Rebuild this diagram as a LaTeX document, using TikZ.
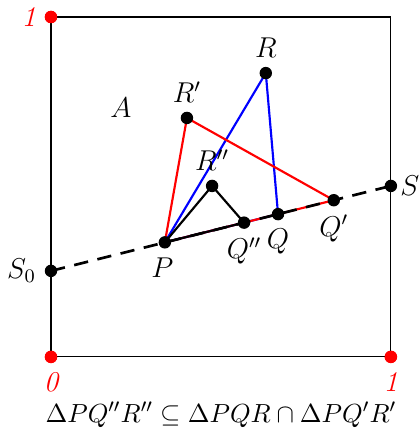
\documentclass[tikz,border=0pt]{standalone}
\usepackage{amsmath,amssymb}
\usetikzlibrary{calc}

\begin{document}
\begin{tikzpicture}[x=5cm, y=5cm,
  dot/.style={circle, fill=black, inner sep=0pt, minimum size=5.2pt},
  corner/.style={circle, fill=red, inner sep=0pt, minimum size=5.2pt},
  edge/.style={line width=0.9pt, draw=#1},
  lab/.style={font=\large},
  tick/.style={font=\large\itshape, text=red},
]
\useasboundingbox (-0.15,-0.218) rectangle (1.082,1.05);
% ---------------- points
\coordinate (S0) at (0,0.253);
\coordinate (S) at (1,0.503);
\coordinate (P) at (0.335,0.337);
\coordinate (Q) at (0.668,0.42);
\coordinate (Qp) at (0.832,0.461);
\coordinate (Qpp) at (0.568,0.395);
\coordinate (R) at (0.632,0.835);
\coordinate (Rp) at (0.4,0.703);
\coordinate (Rpp) at (0.474,0.503);
% ---------------- unit square
\node[corner, label={[tick]below:0}] (O) at (0,0) {};
\node[corner, label={[tick]below:1}] (X1) at (1,0) {};
\node[corner, label={[tick]left:1}] (Y1) at (0,1) {};
\draw[line width=0.5pt] (O.center) -- (X1.center) -- (1,1) -- (Y1.center) -- cycle;
\foreach \c in {O,X1,Y1} \node[corner] at (\c) {};
\node[lab] (A) at (0.206,0.732) {$A$};
% ---------------- triangles
\draw[edge=blue] (P) -- (Q) -- (R) -- cycle;
\draw[edge=red] (P) -- (Qp) -- (Rp) -- cycle;
\draw[line width=1.1pt, dashed, dash pattern=on 6pt off 4pt] (S0) -- (S);
\draw[edge=black] (P) -- (Qpp) -- (Rpp) -- cycle;
% ---------------- dots and labels
\node[dot, label={[lab, xshift=-1pt]below:$P$}] (dP) at (P) {};
\node[dot, label={[lab]below:$Q$}] (dQ) at (Q) {};
\node[dot, label={[lab]below:$Q'$}] (dQp) at (Qp) {};
\node[dot, label={[lab]below:$Q''$}] (dQpp) at (Qpp) {};
\node[dot, label={[lab]above:$R$}] (dR) at (R) {};
\node[dot, label={[lab]above:$R'$}] (dRp) at (Rp) {};
\node[dot, label={[lab]above:$R''$}] (dRpp) at (Rpp) {};
\node[dot, label={[lab]left:$S_0$}] (dS0) at (S0) {};
\node[dot, label={[lab, inner sep=1pt, label distance=0pt]right:$S$}] (dS) at (S) {};
% ---------------- caption
\node[font=\fontsize{11}{13}\selectfont] (cap) at (0.5,-0.17) {$\Delta PQ''R''\subseteq\Delta PQR\cap\Delta PQ'R'$};
\end{tikzpicture}
\end{document}
